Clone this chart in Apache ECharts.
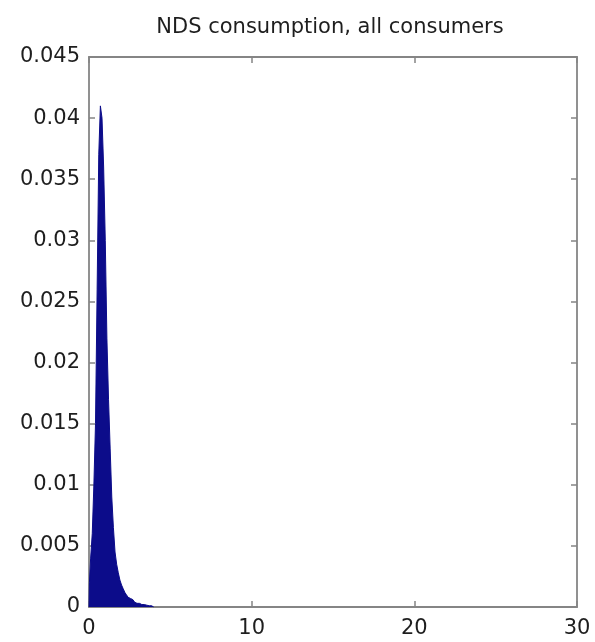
<!DOCTYPE html>
<html>
<head>
<meta charset="utf-8">
<script src="https://cdn.jsdelivr.net/npm/echarts@6/dist/echarts.min.js"></script>
<style>
  html, body { margin: 0; padding: 0; background: #fff; }
  #chart { width: 595px; height: 642px; }
</style>
</head>
<body>
<div id="chart"></div>
<script>
// histogram bin centres (bin width 0.1) and densities
const binCentres = [
  0.05, 0.15, 0.25, 0.35, 0.45, 0.55, 0.65, 0.75, 0.85, 0.95,
  1.05, 1.15, 1.25, 1.35, 1.45, 1.55, 1.65, 1.75, 1.85, 1.95,
  2.05, 2.15, 2.25, 2.35, 2.45, 2.55, 2.65, 2.75, 2.85, 2.95,
  3.05, 3.15, 3.25, 3.35, 3.45, 3.55, 3.65, 3.75, 3.85, 3.95
]
const density = [
  0.002, 0.004, 0.006, 0.010, 0.015, 0.026, 0.037, 0.041, 0.040, 0.036,
  0.030, 0.022, 0.017, 0.013, 0.009, 0.0065, 0.0045, 0.0035, 0.0028, 0.0022,
  0.0018, 0.0015, 0.0012, 0.0010, 0.0008, 0.0007, 0.0006, 0.0005, 0.0004, 0.0003,
  0.0003, 0.00025, 0.0002, 0.0002, 0.00015, 0.00015, 0.0001, 0.0001, 0.0001, 0.00005
]
const xTicks = [0, 30, 10]   // min, max, interval
const yTicks = [0, 0.045, 0.005]
const title = 'NDS consumption, all consumers'

const font = 'DejaVu Sans, Liberation Sans, Arial, sans-serif'
const barColor = '#0c0c8a'
const axisColor = '#858585'
const textColor = '#1e1e1e'

const chart = echarts.init(document.getElementById('chart'))

const seriesData = [[0, 0]].concat(binCentres.map((x, i) => [x, density[i]]), [[4, 0]])

const tickIn = { show: true, inside: true, length: 6, lineStyle: { color: axisColor, width: 1.5 } }
const lineStyle = { show: true, onZero: false, lineStyle: { color: axisColor, width: 1.8 } }

chart.setOption({
  animation: false,
  backgroundColor: '#fff',
  title: {
    text: title,
    left: 325,
    textAlign: 'center',
    top: 12,
    textStyle: { fontFamily: font, fontSize: 21, fontWeight: 'normal', color: textColor }
  },
  grid: { left: 89, right: 18, top: 57, bottom: 35 },
  xAxis: [
    {
      type: 'value', min: xTicks[0], max: xTicks[1], interval: xTicks[2],
      axisLine: lineStyle, axisTick: tickIn, splitLine: { show: false },
      axisLabel: { fontFamily: font, fontSize: 21, color: textColor, margin: 11 }
    },
    {
      type: 'value', position: 'top', min: xTicks[0], max: xTicks[1], interval: xTicks[2],
      axisLine: lineStyle, axisTick: tickIn, splitLine: { show: false },
      axisLabel: { show: false }
    }
  ],
  yAxis: [
    {
      type: 'value', min: yTicks[0], max: yTicks[1], interval: yTicks[2],
      axisLine: lineStyle, axisTick: tickIn, splitLine: { show: false },
      axisLabel: { fontFamily: font, fontSize: 21, color: textColor, margin: 9 }
    },
    {
      type: 'value', position: 'right', min: yTicks[0], max: yTicks[1], interval: yTicks[2],
      axisLine: lineStyle, axisTick: tickIn, splitLine: { show: false },
      axisLabel: { show: false }
    }
  ],
  series: [{
    type: 'line',
    step: 'middle',
    data: seriesData,
    symbol: 'none',
    lineStyle: { color: barColor, width: 1 },
    areaStyle: { color: barColor, opacity: 1 },
    z: 1
  }]
})
</script>
</body>
</html>
